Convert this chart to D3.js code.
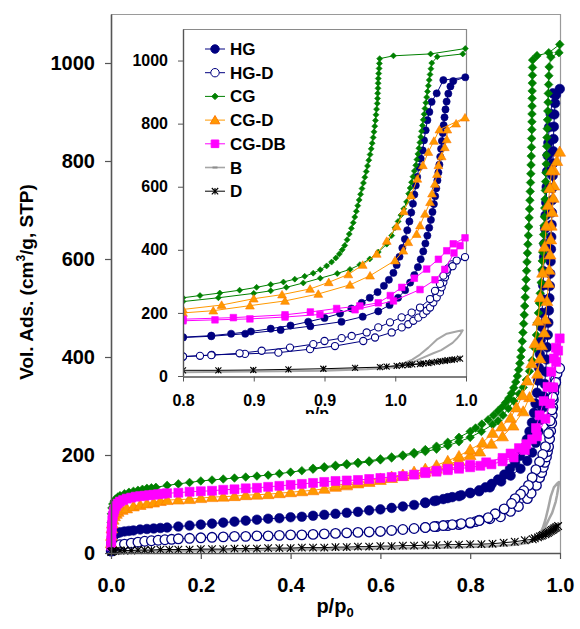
<!DOCTYPE html>
<html><head><meta charset="utf-8">
<script src="https://cdn.jsdelivr.net/npm/d3@7"></script>
<style>
body{margin:0;background:#fff;}
svg{display:block;font-family:"Liberation Sans",Arial,Helvetica,sans-serif;font-weight:bold;}
</style></head><body>
<svg id="chart" width="580" height="629"></svg>
<script>
// N2 isotherms: [p/p0, volume adsorbed] — adsorption then desorption branch
const hgAds = [[0.0005,15],[0.001,22],[0.002,28],[0.004,33],[0.007,37],[0.01,39],[0.015,41],[0.02,42],[0.03,44],[0.04,45],[0.05,46],[0.065,48],[0.08,49],[0.095,50],[0.11,51],[0.125,52],[0.15,54],[0.175,56],[0.2,58],[0.225,60],[0.25,62],[0.275,64],[0.3,66],[0.325,68],[0.35,70],[0.375,71],[0.4,73],[0.425,74],[0.45,76],[0.475,78],[0.5,80],[0.525,82],[0.55,84],[0.575,87],[0.6,89],[0.625,92],[0.65,95],[0.675,98],[0.7,102],[0.725,107],[0.75,112],[0.775,116],[0.8,122],[0.82,126],[0.844,134],[0.869,146],[0.89,158],[0.912,172],[0.927,188],[0.938,205],[0.946,225],[0.952,248],[0.957,272],[0.9605,296],[0.9635,320],[0.966,345],[0.968,370],[0.9698,395],[0.9713,420],[0.9727,445],[0.974,470],[0.9752,495],[0.9763,520],[0.9773,545],[0.9782,570],[0.979,595],[0.9798,620],[0.9805,645],[0.9812,670],[0.9818,695],[0.9824,720],[0.983,745],[0.9836,770],[0.9842,795],[0.9848,820],[0.9855,845],[0.9863,870],[0.9875,895],[0.989,918],[0.991,935],[0.9995,947]];
const hgDes = [[0.984,938],[0.9793,896],[0.9757,869],[0.9741,837],[0.9727,811],[0.9715,779],[0.9703,747],[0.9694,715],[0.968,689],[0.9668,662],[0.9655,631],[0.9645,604],[0.9635,575],[0.9625,546],[0.9613,518],[0.96,490],[0.9585,462],[0.9568,434],[0.955,406],[0.953,378],[0.951,352],[0.9487,327],[0.9455,305],[0.942,286],[0.9375,266],[0.932,248],[0.9263,232],[0.919,214],[0.911,198],[0.9,184],[0.8885,172],[0.876,160],[0.862,150],[0.848,141],[0.834,134],[0.82,128],[0.8,123],[0.78,118],[0.76,114],[0.74,110],[0.72,106],[0.7,103]];

const hgdAds = [[0.0005,4],[0.001,7],[0.002,10],[0.004,12],[0.007,14],[0.01,15],[0.015,16],[0.02,17],[0.03,18],[0.045,20],[0.06,22],[0.075,24],[0.09,25],[0.105,26],[0.12,27],[0.135,28],[0.15,29],[0.175,30],[0.2,31],[0.225,32],[0.25,33],[0.275,34],[0.3,34],[0.325,35],[0.35,35],[0.375,36],[0.4,37],[0.425,37],[0.45,38],[0.475,39],[0.5,40],[0.525,41],[0.55,42],[0.575,43],[0.6,44],[0.625,46],[0.65,48],[0.675,50],[0.7,52],[0.725,54],[0.75,56],[0.775,58],[0.8,61],[0.812,64],[0.8203,67],[0.8438,70],[0.8674,74],[0.8898,85],[0.9074,95],[0.9274,111],[0.9357,122],[0.9475,138],[0.9546,154],[0.9592,164],[0.9628,175],[0.9663,185],[0.9698,196],[0.9722,207],[0.9746,217],[0.9769,233],[0.9793,249],[0.9816,265],[0.9828,281],[0.984,297],[0.9852,313],[0.9864,328],[0.9875,342],[0.9899,354],[0.9934,366],[0.9993,377]];
const hgdDes = [[0.9905,348],[0.9864,337],[0.984,318],[0.9816,292],[0.9781,270],[0.9746,244],[0.9675,217],[0.9616,201],[0.9545,186],[0.9463,170],[0.938,154],[0.9298,138],[0.9192,127],[0.9121,120],[0.9,111],[0.8921,101],[0.8756,90],[0.8556,80],[0.84,72],[0.82,66],[0.8,62],[0.78,60],[0.76,58],[0.74,56],[0.72,54],[0.7,52]];

const cgAds = [[0.0005,62],[0.001,80],[0.002,92],[0.004,100],[0.007,106],[0.01,110],[0.015,114],[0.02,117],[0.03,121],[0.04,124],[0.05,126],[0.06,128],[0.07,130],[0.08,132],[0.09,133],[0.1,134],[0.125,138],[0.15,141],[0.175,144],[0.2,147],[0.225,149],[0.25,151],[0.275,153],[0.3,155],[0.325,157],[0.35,159],[0.375,162],[0.4,165],[0.425,168],[0.45,171],[0.475,174],[0.5,177],[0.525,180],[0.55,183],[0.575,186],[0.6,190],[0.625,194],[0.65,198],[0.675,202],[0.7,207],[0.725,212],[0.75,219],[0.775,227],[0.8,236],[0.825,248],[0.85,262],[0.862,270],[0.873,281],[0.885,295],[0.897,310],[0.909,325],[0.918,338],[0.925,353],[0.932,371],[0.938,393],[0.944,418],[0.9475,445],[0.9498,470],[0.952,490],[0.954,510],[0.956,530],[0.958,552],[0.9595,578],[0.9605,596],[0.9615,614],[0.9625,632],[0.9635,650],[0.9645,668],[0.9653,686],[0.966,704],[0.9667,722],[0.9674,740],[0.968,758],[0.9686,776],[0.9692,794],[0.9698,812],[0.9704,830],[0.971,848],[0.9716,866],[0.9722,884],[0.9728,902],[0.9734,920],[0.974,938],[0.9746,956],[0.9752,974],[0.9758,992],[0.9797,1012],[0.9977,1021],[0.9995,1038]];
const cgDes = [[0.975,1021],[0.9487,1015],[0.939,1006],[0.9388,991],[0.9386,975],[0.9383,959],[0.938,943],[0.9379,928],[0.9378,912],[0.9376,896],[0.9375,880],[0.9373,864],[0.9368,846],[0.9364,828],[0.936,810],[0.9355,792],[0.935,774],[0.9344,756],[0.9337,738],[0.933,720],[0.9322,702],[0.9313,684],[0.9304,666],[0.9295,648],[0.9285,630],[0.9275,612],[0.9265,594],[0.9255,576],[0.9245,558],[0.9235,540],[0.9225,522],[0.9214,504],[0.9203,486],[0.919,468],[0.9175,450],[0.916,432],[0.9143,414],[0.9125,400],[0.9105,387],[0.908,374],[0.905,361],[0.9015,349],[0.897,337],[0.892,326],[0.886,316],[0.879,307],[0.871,298],[0.862,290],[0.852,281],[0.84,272],[0.826,263],[0.812,255],[0.8,248],[0.775,236],[0.75,226],[0.725,218],[0.7,211],[0.675,205],[0.65,200],[0.625,196],[0.6,192],[0.575,188],[0.55,185],[0.525,182],[0.5,179],[0.475,176],[0.45,173]];

const cgdAds = [[0.0005,20],[0.001,35],[0.002,50],[0.003,60],[0.005,68],[0.008,75],[0.012,80],[0.016,84],[0.025,88],[0.035,91],[0.05,95],[0.065,98],[0.08,101],[0.095,103],[0.11,106],[0.125,108],[0.15,109],[0.175,110],[0.2,112],[0.225,114],[0.25,115],[0.275,116],[0.3,118],[0.325,119],[0.35,120],[0.375,122],[0.4,124],[0.425,126],[0.45,128],[0.475,131],[0.5,135],[0.525,138],[0.55,142],[0.575,145],[0.6,149],[0.625,153],[0.65,157],[0.675,161],[0.7,166],[0.725,172],[0.75,180],[0.775,189],[0.8,200],[0.8214,207],[0.8473,223],[0.8721,238],[0.8956,260],[0.918,289],[0.9322,318],[0.9498,366],[0.9557,397],[0.9592,424],[0.9651,450],[0.9675,477],[0.971,514],[0.9746,551],[0.976,578],[0.978,609],[0.9795,640],[0.9805,668],[0.9828,696],[0.985,725],[0.9864,750],[0.9868,781],[0.993,800],[0.9993,819]];
const cgdDes = [[0.9812,781],[0.9773,745],[0.9734,710],[0.9695,668],[0.9656,625],[0.9611,572],[0.956,522],[0.951,474],[0.944,428],[0.9369,387],[0.927,352],[0.9168,322],[0.903,297],[0.8898,276],[0.87,258],[0.85,245],[0.8273,225],[0.8,211],[0.775,198],[0.75,188],[0.725,179],[0.7,172],[0.675,166],[0.65,160],[0.625,156],[0.6,152],[0.575,148],[0.55,145],[0.525,141],[0.5,138]];

const cgdbAds = [[0.0003,15],[0.0006,26],[0.001,37],[0.0015,47],[0.002,57],[0.003,67],[0.004,76],[0.006,84],[0.008,90],[0.011,96],[0.015,101],[0.02,105],[0.027,108],[0.035,111],[0.045,113],[0.055,115],[0.065,116],[0.075,117],[0.085,118],[0.095,119],[0.105,120],[0.115,121],[0.125,122],[0.15,123],[0.175,125],[0.2,126],[0.225,127],[0.25,129],[0.275,130],[0.3,132],[0.325,133],[0.35,135],[0.375,137],[0.4,139],[0.425,141],[0.45,143],[0.475,145],[0.5,147],[0.525,148],[0.55,149],[0.575,151],[0.6,153],[0.625,155],[0.65,157],[0.675,160],[0.7,163],[0.725,166],[0.75,169],[0.775,172],[0.8,175],[0.8226,178],[0.8473,181],[0.8721,187],[0.8968,195],[0.9216,210],[0.9487,238],[0.9675,274],[0.9781,305],[0.985,338],[0.9915,390],[0.9958,413],[0.9993,438]];
const cgdbDes = [[0.991,419],[0.9864,397],[0.9805,370],[0.9722,339],[0.9635,310],[0.9546,281],[0.9465,255],[0.938,232],[0.925,222],[0.9086,214],[0.89,203],[0.8721,194],[0.8356,185],[0.8,180],[0.775,176],[0.75,172],[0.725,168],[0.7,165]];

const bAds = [[0.0005,1],[0.05,3],[0.1,4],[0.2,5],[0.3,6],[0.4,7],[0.5,8],[0.6,9],[0.7,10],[0.8,12],[0.85,14],[0.9,17],[0.93,21],[0.95,28],[0.9628,45],[0.9705,60],[0.9769,72],[0.9825,82],[0.9864,93],[0.9905,105],[0.9934,118],[0.996,132],[0.9977,145]];
const bDes = [[0.994,142],[0.9864,134],[0.9793,115],[0.9734,90],[0.9675,68],[0.962,52],[0.955,38],[0.945,28],[0.93,22],[0.9,18]];

const dAds = [[0.0005,2],[0.002,3],[0.005,4],[0.01,4],[0.02,5],[0.03,5],[0.045,5],[0.06,6],[0.075,6],[0.09,6],[0.11,7],[0.13,7],[0.15,7],[0.175,7],[0.2,8],[0.225,8],[0.25,8],[0.275,9],[0.3,9],[0.325,9],[0.35,10],[0.375,10],[0.4,10],[0.425,11],[0.45,11],[0.475,11],[0.5,12],[0.525,12],[0.55,13],[0.575,13],[0.6,14],[0.625,14],[0.65,15],[0.675,15],[0.7,16],[0.725,16],[0.75,17],[0.775,17],[0.8,18],[0.825,18],[0.8497,19],[0.8745,21],[0.8992,23],[0.9216,26],[0.9392,28],[0.9439,30],[0.951,32],[0.9592,35],[0.9675,38],[0.9734,41],[0.9793,45],[0.985,48],[0.9899,51],[0.9958,55]];
const dDes = [[0.992,53],[0.987,50],[0.982,47],[0.976,43],[0.97,40],[0.962,37],[0.955,34]];

// axis ticks
const mainXTicks = [0, 0.2, 0.4, 0.6, 0.8, 1.0];
const mainYTicks = [0, 200, 400, 600, 800, 1000];
const insetXTicks = [0.8, 0.85, 0.9, 0.95, 1.0];
const insetXLabels = ["0.8", "0.9", "0.9", "1.0", "1.0"];
const insetYTicks = [0, 200, 400, 600, 800, 1000];

const seriesNames = ["HG", "HG-D", "CG", "CG-D", "CG-DB", "B", "D"];

// styling per series
const styles = {
  "HG":    {line:"#000080", marker:"circle",   fill:"#000080", stroke:"#000080"},
  "HG-D":  {line:"#000080", marker:"circle",   fill:"#ffffff", stroke:"#000080"},
  "CG":    {line:"#008000", marker:"diamond",  fill:"#008000", stroke:"#008000"},
  "CG-D":  {line:"#FF9900", marker:"triangle", fill:"#FF9900", stroke:"#FF7700"},
  "CG-DB": {line:"#FF00FF", marker:"square",   fill:"#FF00FF", stroke:"#FF00FF"},
  "B":     {line:"#A6A6A6", marker:"none",     fill:"none",    stroke:"#A6A6A6"},
  "D":     {line:"#000000", marker:"asterisk", fill:"none",    stroke:"#000000"}
};
const dataByName = {
  "HG": hgAds.concat(hgDes), "HG-D": hgdAds.concat(hgdDes),
  "CG": cgAds.concat(cgDes), "CG-D": cgdAds.concat(cgdDes),
  "CG-DB": cgdbAds.concat(cgdbDes), "B": bAds.concat(bDes),
  "D": dAds.concat(dDes)
};

function markerPath(type, s) {
  switch (type) {
    case "circle": return `M${s},0A${s},${s} 0 1,1 ${-s},0A${s},${s} 0 1,1 ${s},0Z`;
    case "diamond": return `M0,${-s}L${s},0L0,${s}L${-s},0Z`;
    case "triangle": return `M0,${-s}L${s*1.05},${s*0.8}L${-s*1.05},${s*0.8}Z`;
    case "square": return `M${-s},${-s}h${2*s}v${2*s}h${-2*s}Z`;
    case "asterisk": return `M0,${-s}V${s}M${-s},${-s}L${s},${s}M${-s},${s}L${s},${-s}`;
    case "dash": return `M${-s},0H${s}`;
  }
  return "";
}

const svg = d3.select("#chart");
svg.append("rect").attr("width", 580).attr("height", 629).attr("fill", "#fff");

// ---------- main panel ----------
const mx = d3.scaleLinear().domain([0, 1]).range([111, 560]);
const my = d3.scaleLinear().domain([0, 1100]).range([553, 14]);

const mainSizes = {circle:4.8, diamond:4.3, triangle:5.6, square:4.5, asterisk:3.8};
const insetSizes = {circle:3.6, diamond:3.0, triangle:4.2, square:3.3, asterisk:3.0};

function drawSeries(g, xs, ys, sizes, lw, bw, openStroke) {
  const line = d3.line().x(d => xs(d[0])).y(d => ys(d[1]));
  seriesNames.forEach(name => {
    const st = styles[name];
    const pts = dataByName[name];
    g.append("path").attr("d", line(pts)).attr("fill", "none")
      .attr("stroke", st.line).attr("stroke-width", name === "B" ? bw : lw)
      .attr("stroke-linejoin", "round");
    if (st.marker === "none") return;
    const sz = sizes[st.marker];
    g.append("g").selectAll("path").data(pts).join("path")
      .attr("transform", d => `translate(${xs(d[0])},${ys(d[1])})`)
      .attr("d", markerPath(st.marker, sz))
      .attr("fill", st.fill)
      .attr("stroke", st.stroke)
      .attr("stroke-width", name === "HG-D" ? openStroke : (st.marker === "asterisk" ? 1.1 : 0.6));
  });
}

// frame lines (top and right)
svg.append("line").attr("x1", 111).attr("x2", 560).attr("y1", 14.5).attr("y2", 14.5).attr("stroke", "#9a9a9a").attr("stroke-width", 1.2);
svg.append("line").attr("x1", 560.5).attr("x2", 560.5).attr("y1", 14).attr("y2", 553).attr("stroke", "#9a9a9a").attr("stroke-width", 1.2);

const mainG = svg.append("g");
drawSeries(mainG, mx, my, mainSizes, 1, 2.5, 1.3);

// main axes
const mxAxis = svg.append("g").attr("transform", "translate(0,553)")
  .call(d3.axisBottom(mx).tickValues(mainXTicks).tickFormat(d3.format(".1f")).tickSizeInner(6).tickSizeOuter(0).tickPadding(19));
const myAxis = svg.append("g").attr("transform", "translate(111,0)")
  .call(d3.axisLeft(my).tickValues(mainYTicks).tickFormat(d3.format("d")).tickSizeInner(6).tickSizeOuter(0).tickPadding(10));
[mxAxis, myAxis].forEach(a => {
  a.select(".domain").attr("stroke", "#555").attr("stroke-width", 1.6);
  a.selectAll(".tick line").attr("stroke", "#555").attr("stroke-width", 1.2);
  a.selectAll(".tick text").attr("fill", "#000").style("font-size", "20px").style("font-weight", "bold")
    .style("font-family", "'Liberation Sans', Arial, sans-serif");
});

// axis titles
const yt = svg.append("text").attr("transform", "translate(33,282) rotate(-90)")
  .attr("text-anchor", "middle").style("font-size", "19px").attr("fill", "#000");
yt.append("tspan").text("Vol. Ads. (cm");
yt.append("tspan").text("3").style("font-size", "12px").attr("dy", -8);
yt.append("tspan").text("/g, STP)").attr("dy", 8);

const xt = svg.append("text").attr("x", 335).attr("y", 613).attr("text-anchor", "middle")
  .style("font-size", "20px").attr("fill", "#000");
xt.append("tspan").text("p/p");
xt.append("tspan").text("0").style("font-size", "13px").attr("dy", 4);

// ---------- inset panel ----------
const ix = d3.scaleLinear().domain([0.8, 1.0]).range([183, 466]);
const iy = d3.scaleLinear().domain([0, 1100]).range([376, 29]);

const defs = svg.append("defs");
defs.append("clipPath").attr("id", "insetClip").append("rect")
  .attr("x", 183).attr("y", 20).attr("width", 292).attr("height", 357);
defs.append("clipPath").attr("id", "insetLabelClip").append("rect")
  .attr("x", 183).attr("y", 20).attr("width", 283).attr("height", 394);

svg.append("rect").attr("x", 183).attr("y", 29).attr("width", 283).attr("height", 347).attr("fill", "#fff");
svg.append("line").attr("x1", 183).attr("x2", 466).attr("y1", 29.5).attr("y2", 29.5).attr("stroke", "#8a8a8a").attr("stroke-width", 1.2);
svg.append("line").attr("x1", 466.5).attr("x2", 466.5).attr("y1", 29).attr("y2", 377).attr("stroke", "#8a8a8a").attr("stroke-width", 1.2);

const insetG = svg.append("g").attr("clip-path", "url(#insetClip)");
drawSeries(insetG, ix, iy, insetSizes, 1, 2, 1.1);

const ixAxis = svg.append("g").attr("transform", "translate(0,376.5)")
  .call(d3.axisBottom(ix).tickValues(insetXTicks).tickFormat((d, i) => insetXLabels[i]).tickSizeInner(5).tickSizeOuter(0).tickPadding(13));
const iyAxis = svg.append("g").attr("transform", "translate(183,0)")
  .call(d3.axisLeft(iy).tickValues(insetYTicks).tickFormat(d3.format("d")).tickSizeInner(5).tickSizeOuter(0).tickPadding(10));
[ixAxis, iyAxis].forEach(a => {
  a.select(".domain").attr("stroke", "#555").attr("stroke-width", 1.4);
  a.selectAll(".tick line").attr("stroke", "#555").attr("stroke-width", 1);
  a.selectAll(".tick text").attr("fill", "#000").style("font-size", "16px").style("font-weight", "bold")
    .style("font-family", "'Liberation Sans', Arial, sans-serif");
});

// inset axis title, cut by the inset box
const ixt = svg.append("text").attr("x", 320).attr("y", 419).attr("text-anchor", "middle")
  .attr("clip-path", "url(#insetLabelClip)").style("font-size", "16px").attr("fill", "#000");
ixt.append("tspan").text("p/p");
ixt.append("tspan").text("0").style("font-size", "11px").attr("dy", 3);

// legend
const legend = svg.append("g");
const legendSizes = {circle:4.2, diamond:3.2, triangle:4.6, square:3.8, asterisk:3.2, dash:2.5};
seriesNames.forEach((name, i) => {
  const st = styles[name];
  const y = 49 + i * 23.7;
  const row = legend.append("g").attr("transform", `translate(0,${y})`);
  row.append("line").attr("x1", 205).attr("x2", 225).attr("y1", 0).attr("y2", 0)
    .attr("stroke", st.line).attr("stroke-width", name === "B" ? 1.6 : 1);
  const mk = st.marker === "none" ? "dash" : st.marker;
  row.append("path").attr("transform", "translate(215,0)")
    .attr("d", markerPath(mk, legendSizes[mk]))
    .attr("fill", st.marker === "none" ? "none" : st.fill)
    .attr("stroke", st.marker === "none" ? "#8c8c8c" : st.stroke)
    .attr("stroke-width", mk === "asterisk" ? 1.1 : (mk === "dash" ? 2 : 1));
  row.append("text").attr("x", 230).attr("y", 6).text(name)
    .style("font-size", "17px").attr("fill", "#000");
});
</script>
</body></html>
